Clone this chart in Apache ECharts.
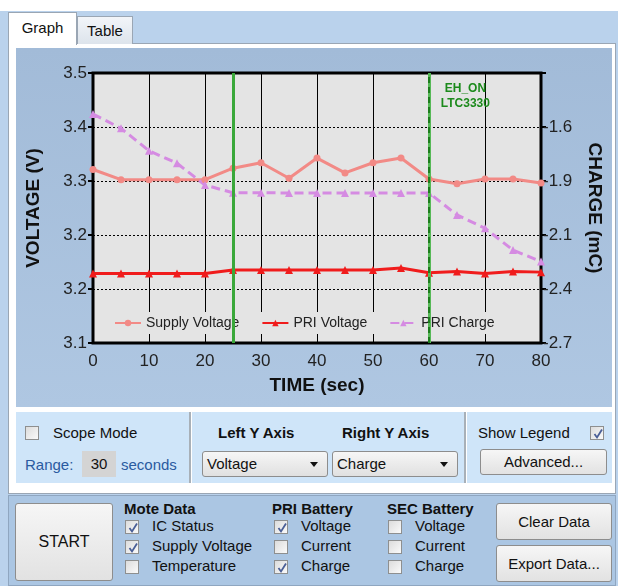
<!DOCTYPE html>
<html>
<head>
<meta charset="utf-8">
<script src="https://cdn.jsdelivr.net/npm/echarts@6/dist/echarts.min.js"></script>
<style>
  body { margin: 0; background: #fff; font-family: "Liberation Sans", Arial, sans-serif; }
  .abs { position: absolute; }
  #page { left: 0; top: 11px; width: 618px; height: 575px; background: #bad2ec; }
  .tab { font-size: 15px; color: #111; text-align: center; box-sizing: border-box; }
  #tabGraph { left: 8px; top: 12px; width: 69px; height: 33px; background: #fff; border: 1px solid #9aa6b4; border-bottom: none; line-height: 30px; z-index: 3; }
  #tabTable { left: 77px; top: 16px; width: 56px; height: 28px; background: linear-gradient(#f2f5f9, #dde4ec); border: 1px solid #9aa6b4; border-bottom: none; line-height: 27px; }
  #tabPanel { left: 8px; top: 43px; width: 608px; height: 451px; background: #fff; border: 1px solid #9aa6b4; box-sizing: border-box; }
  #chart { left: 16px; top: 48px; width: 596px; height: 359px; }
  .box { background: #cfe5f9; top: 412px; height: 71px; }
  .sep { top: 412px; height: 71px; width: 2px; background: #a8b0b8; }
  .txt { font-size: 15px; color: #111; white-space: nowrap; }
  .bold { font-weight: bold; }
  .blue { color: #2a5aa0; }
  .cb { width: 14px; height: 14px; border: 1px solid #8e8f8f; background: linear-gradient(135deg, #dcdcdc, #fafafa); box-sizing: border-box; }
  .cb svg { position: absolute; left: 1px; top: 1px; }
  .btn { border: 1px solid #8d8d8d; border-radius: 3px; background: linear-gradient(#f6f6f6, #e2e2e2); box-sizing: border-box; font-size: 15px; color: #111; text-align: center; }
  .combo { border: 1px solid #8d8d8d; border-radius: 3px; background: linear-gradient(#f6f6f6, #e0e0e0); box-sizing: border-box; font-size: 15px; color: #111; padding-left: 4px; line-height: 24px; }
  .combo::after { content: ""; position: absolute; right: 9px; top: 10px; border-left: 4px solid transparent; border-right: 4px solid transparent; border-top: 5px solid #111; }
  #bottom { left: 8px; top: 495px; width: 608px; height: 91px; background: #abc6e3; border: 1px solid #8fa6c0; box-sizing: border-box; }
</style>
</head>
<body>
<div id="page" class="abs"></div>
<div id="tabPanel" class="abs"></div>
<div id="tabGraph" class="abs tab">Graph</div>
<div id="tabTable" class="abs tab">Table</div>
<div id="chart" class="abs"></div>

<div class="abs box" style="left:16px;width:173px;"></div>
<div class="abs sep" style="left:189px;"></div>
<div class="abs box" style="left:192px;width:272px;"></div>
<div class="abs sep" style="left:464px;"></div>
<div class="abs box" style="left:467px;width:145px;"></div>

<div class="abs cb" style="left:25px;top:426px;"></div>
<div class="abs txt" style="left:53px;top:424px;">Scope Mode</div>
<div class="abs txt blue" style="left:25px;top:456px;">Range:</div>
<div class="abs txt" style="left:82px;top:451px;width:34px;height:26px;background:#d4d4d4;text-align:center;line-height:25px;">30</div>
<div class="abs txt blue" style="left:121px;top:456px;">seconds</div>

<div class="abs txt bold" style="left:218px;top:424px;">Left Y Axis</div>
<div class="abs txt bold" style="left:342px;top:424px;">Right Y Axis</div>
<div class="abs combo" style="left:202px;top:451px;width:126px;height:26px;">Voltage</div>
<div class="abs combo" style="left:332px;top:451px;width:126px;height:26px;">Charge</div>

<div class="abs txt" style="left:478px;top:424px;">Show Legend</div>
<div class="abs cb chk" style="left:590px;top:426px;"></div>
<div class="abs btn" style="left:480px;top:449px;width:127px;height:26px;line-height:24px;">Advanced...</div>

<div id="bottom" class="abs"></div>
<div class="abs btn" style="left:15px;top:503px;width:98px;height:78px;line-height:76px;font-size:16px;">START</div>
<div class="abs btn" style="left:496px;top:503px;width:116px;height:37px;line-height:35px;">Clear Data</div>
<div class="abs btn" style="left:496px;top:545px;width:116px;height:37px;line-height:35px;">Export Data...</div>

<div class="abs txt bold" style="left:124px;top:500px;">Mote Data</div>
<div class="abs txt bold" style="left:272px;top:500px;">PRI Battery</div>
<div class="abs txt bold" style="left:387px;top:500px;">SEC Battery</div>
<div id="checks"></div>

<script>
// chart data
const timeSec = [0, 5, 10, 15, 20, 25, 30, 35, 40, 45, 50, 55, 60, 65, 70, 75, 80];
const supplyVoltage = [3.357, 3.342, 3.342, 3.342, 3.342, 3.359, 3.367, 3.344, 3.374, 3.352, 3.367, 3.374, 3.343, 3.336, 3.343, 3.343, 3.337];
const priVoltage = [3.203, 3.203, 3.203, 3.203, 3.203, 3.208, 3.208, 3.208, 3.208, 3.208, 3.208, 3.211, 3.204, 3.206, 3.203, 3.206, 3.205];
const priCharge = [-1.513, -1.587, -1.703, -1.768, -1.881, -1.921, -1.921, -1.922, -1.922, -1.922, -1.922, -1.922, -1.922, -2.036, -2.105, -2.218, -2.278];
const voltTicks = ['3.1', '3.2', '3.2', '3.3', '3.4', '3.5'];
const chargeTicks = ['-2.7', '-2.4', '-2.1', '-1.9', '-1.6', ''];
const eventTimes = [25, 60];

// checkbox panel
const checkGroups = [
  { x: 125, labels: ['IC Status', 'Supply Voltage', 'Temperature'], on: [true, true, false] },
  { x: 274, labels: ['Voltage', 'Current', 'Charge'], on: [true, false, true] },
  { x: 388, labels: ['Voltage', 'Current', 'Charge'], on: [false, false, false] }
];
const tick = '<svg width="12" height="12"><polyline points="2.5,6 5,9.5 10,1.5" fill="none" stroke="#4a5f97" stroke-width="1.8"/></svg>';
let html = '';
checkGroups.forEach(g => {
  g.labels.forEach((l, i) => {
    const y = 520 + i * 20;
    html += '<div class="abs cb" style="left:' + g.x + 'px;top:' + y + 'px;">' + (g.on[i] ? tick : '') + '</div>';
    html += '<div class="abs txt" style="left:' + (g.x + 27) + 'px;top:' + (y - 3) + 'px;">' + l + '</div>';
  });
});
document.getElementById('checks').innerHTML = html;
document.querySelector('.chk').innerHTML = tick;

const chart = echarts.init(document.getElementById('chart'));
const font = '"Liberation Sans", Arial, sans-serif';
const zip = (xs, ys) => xs.map((x, i) => [x, ys[i]]);

chart.setOption({
  animation: false,
  backgroundColor: new echarts.graphic.LinearGradient(0, 0, 0, 1, [
    { offset: 0, color: '#a2bbd8' },
    { offset: 1, color: '#afc7e2' }
  ]),
  textStyle: { fontFamily: font },
  grid: {
    left: 74, top: 25, width: 452, height: 270,
    show: true, backgroundColor: '#e4e4e4', borderColor: '#000', borderWidth: 3
  },
  legend: {
    left: 92, top: 264,
    backgroundColor: '#e4e4e4',
    padding: [4, 6],
    itemGap: 22,
    itemWidth: 26,
    itemHeight: 8,
    textStyle: { fontSize: 14, color: '#222', fontFamily: font },
    data: ['Supply Voltage', 'PRI Voltage', 'PRI Charge']
  },
  xAxis: {
    type: 'value', min: 0, max: 80, interval: 10,
    name: 'TIME (sec)', nameLocation: 'middle', nameGap: 33,
    nameTextStyle: { fontSize: 19, fontWeight: 'bold', color: '#111' },
    axisLine: { show: false },
    axisTick: { show: false },
    axisLabel: { fontSize: 17, color: '#222', margin: 10 },
    splitLine: { show: true, lineStyle: { color: '#000', width: 1 } }
  },
  yAxis: [
    {
      type: 'value', min: 3.1, max: 3.5, interval: 0.08,
      name: 'VOLTAGE (V)', nameLocation: 'middle', nameGap: 50,
      nameTextStyle: { fontSize: 19, fontWeight: 'bold', color: '#111' },
      axisLine: { show: false },
      axisTick: { show: true, length: 5, lineStyle: { color: '#000', width: 2 } },
      axisLabel: {
        fontSize: 17, color: '#222', margin: 6,
        formatter: v => voltTicks[Math.round((v - 3.1) / 0.08)]
      },
      splitLine: { show: true, lineStyle: { color: '#000', width: 1, type: [2, 2] } }
    },
    {
      type: 'value', min: -2.7, max: -1.3, interval: 0.28,
      name: 'CHARGE (mC)', nameLocation: 'middle', nameGap: 44, nameRotate: -90,
      nameTextStyle: { fontSize: 19, fontWeight: 'bold', color: '#111' },
      axisLine: { show: false },
      axisTick: { show: true, length: 5, lineStyle: { color: '#000', width: 2 } },
      axisLabel: {
        fontSize: 17, color: '#222', margin: 2,
        formatter: v => chargeTicks[Math.round((v + 2.7) / 0.28)]
      },
      splitLine: { show: false }
    }
  ],
  series: [
    {
      name: 'Supply Voltage', type: 'line', yAxisIndex: 0,
      data: zip(timeSec, supplyVoltage),
      symbol: 'circle', symbolSize: 7,
      itemStyle: { color: '#f28a86' },
      lineStyle: { color: '#f28a86', width: 3 },
      z: 3
    },
    {
      name: 'PRI Voltage', type: 'line', yAxisIndex: 0,
      data: zip(timeSec, priVoltage),
      symbol: 'triangle', symbolSize: 8,
      itemStyle: { color: '#f01c1c' },
      lineStyle: { color: '#f01c1c', width: 3 },
      z: 3
    },
    {
      name: 'PRI Charge', type: 'line', yAxisIndex: 1,
      data: zip(timeSec, priCharge),
      symbol: 'triangle', symbolSize: 8,
      itemStyle: { color: '#d58be2' },
      lineStyle: { color: '#d58be2', width: 3, type: [9, 5] },
      z: 3,
      markPoint: {
        symbol: 'circle', symbolSize: 0,
        label: {
          show: true, formatter: 'EH_ON\nLTC3330', color: '#1c8a1c',
          fontSize: 12, fontWeight: 'bold', lineHeight: 15, align: 'center'
        },
        data: [{ coord: [66.5, -1.42] }]
      }
    },
    {
      name: 'events', type: 'line', data: [], z: 4,
      markLine: {
        silent: true, symbol: 'none', label: { show: false },
        data: [
          { xAxis: eventTimes[0], lineStyle: { color: '#3aa83a', width: 3, type: 'solid' } },
          { xAxis: eventTimes[1], lineStyle: { color: '#56b856', width: 3, type: 'solid' } },
          { xAxis: eventTimes[1], lineStyle: { color: '#1d7d1d', width: 2, type: [6, 4] } }
        ]
      }
    }
  ]
});
</script>
</body>
</html>
